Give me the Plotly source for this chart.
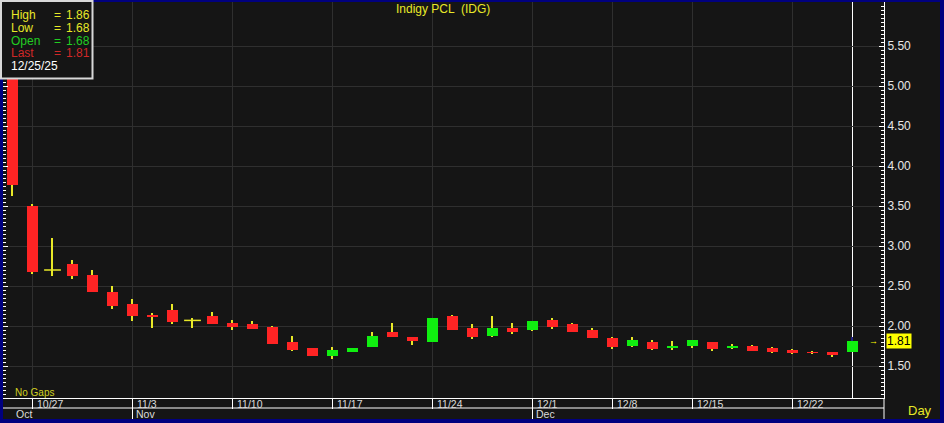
import plotly.graph_objects as go

# ---------------- data ----------------
dates = [
    "2025-10-24",
    "2025-10-27", "2025-10-28", "2025-10-29", "2025-10-30", "2025-10-31",
    "2025-11-03", "2025-11-04", "2025-11-05", "2025-11-06", "2025-11-07",
    "2025-11-10", "2025-11-11", "2025-11-12", "2025-11-13", "2025-11-14",
    "2025-11-17", "2025-11-18", "2025-11-19", "2025-11-20", "2025-11-21",
    "2025-11-24", "2025-11-25", "2025-11-26", "2025-11-27", "2025-11-28",
    "2025-12-01", "2025-12-02", "2025-12-03", "2025-12-04",
    "2025-12-08", "2025-12-09", "2025-12-11", "2025-12-12",
    "2025-12-15", "2025-12-16", "2025-12-17", "2025-12-18", "2025-12-19",
    "2025-12-22", "2025-12-23", "2025-12-24", "2025-12-25",
]
opens = [5.60, 3.50, 2.70, 2.78, 2.64, 2.425, 2.275, 2.14, 2.20, 2.07,
         2.13, 2.04, 2.025, 1.99, 1.80, 1.725, 1.63, 1.67, 1.74, 1.925,
         1.86, 1.80, 2.125, 1.975, 1.875, 1.975, 1.95, 2.075, 2.025, 1.95,
         1.85, 1.75, 1.80, 1.725, 1.75, 1.80, 1.725, 1.75, 1.725, 1.70,
         1.675, 1.675, 1.68]
highs = [6.00, 3.53, 3.10, 2.83, 2.70, 2.50, 2.34, 2.16, 2.275, 2.10,
         2.175, 2.075, 2.06, 2.00, 1.875, 1.725, 1.74, 1.725, 1.925, 2.04,
         1.86, 2.10, 2.14, 2.025, 2.125, 2.04, 2.06, 2.10, 2.04, 1.975,
         1.86, 1.86, 1.825, 1.81, 1.825, 1.80, 1.775, 1.76, 1.74, 1.71,
         1.69, 1.675, 1.86]
lows = [3.62, 2.65, 2.63, 2.59, 2.425, 2.21, 2.06, 1.975, 2.03, 1.98,
        2.02, 1.95, 1.96, 1.77, 1.69, 1.62, 1.59, 1.67, 1.74, 1.865,
        1.765, 1.80, 1.95, 1.835, 1.86, 1.90, 1.94, 1.96, 1.925, 1.85,
        1.71, 1.74, 1.70, 1.70, 1.725, 1.69, 1.71, 1.69, 1.66, 1.65,
        1.65, 1.61, 1.68]
closes = [3.76, 2.67, 2.70, 2.62, 2.425, 2.25, 2.125, 2.11, 2.055, 2.07,
          2.025, 1.99, 1.965, 1.78, 1.705, 1.63, 1.70, 1.725, 1.875, 1.865,
          1.815, 2.10, 1.95, 1.86, 1.975, 1.925, 2.06, 1.99, 1.925, 1.85,
          1.74, 1.825, 1.71, 1.75, 1.825, 1.71, 1.75, 1.69, 1.675, 1.66,
          1.665, 1.64, 1.81]

week_ticks = ["2025-10-27", "2025-11-03", "2025-11-10", "2025-11-17", "2025-11-24",
              "2025-12-01", "2025-12-08", "2025-12-15", "2025-12-22"]
week_labels = ["10/27", "11/3", "11/10", "11/17", "11/24", "12/1", "12/8", "12/15", "12/22"]
month_ticks = ["2025-10-24", "2025-11-03", "2025-12-01"]
month_labels = ["Oct", "Nov", "Dec"]
y_ticks = [1.5, 2.0, 2.5, 3.0, 3.5, 4.0, 4.5, 5.0, 5.5]

title_text = "Indigy PCL  (IDG)"
info_labels = ["High", "Low", "Open", "Last"]
info_values = [highs[-1], lows[-1], opens[-1], closes[-1]]
info_date = "12/25/25"

# ---------------- styles ----------------
BG = "#151515"
GRID = "#2f2f2f"
BLUE = "#00007f"
RED = "#ff2424"
GREEN = "#10ee10"
YEL = "#e8e828"
FONT = "Liberation Sans, Arial, sans-serif"

W, H = 944, 423
L, R, T, B = 3, 884, 2, 398  # plot area in pixels


def px_x(px):
    return (px - L) / (R - L)


def px_y(py):
    return (B - py) / (B - T)


body_base = [min(o, c) for o, c in zip(opens, closes)]
body_h = [abs(c - o) for o, c in zip(opens, closes)]
body_col = [GREEN if c > o else (RED if c < o else YEL) for o, c in zip(opens, closes)]
wick_h = [h - l for h, l in zip(highs, lows)]
wick_col = [YEL] * (len(dates) - 1) + ["#202080"]
doji_x = [d for d, o, c in zip(dates, opens, closes) if o == c]
doji_y = [o for o, c in zip(opens, closes) if o == c]

fig = go.Figure()
fig.add_trace(go.Bar(x=dates, y=wick_h, base=lows, width=0.06,
                     marker=dict(color=wick_col, line=dict(width=0)),
                     hoverinfo="skip", showlegend=False))
fig.add_trace(go.Bar(x=dates, y=body_h, base=body_base, width=0.57,
                     marker=dict(color=body_col, line=dict(width=0)),
                     hoverinfo="skip", showlegend=False))
fig.add_trace(go.Scatter(x=doji_x, y=doji_y, mode="markers",
                         marker=dict(symbol="line-ew", size=12,
                                     line=dict(color=YEL, width=1.5)),
                         hoverinfo="skip", showlegend=False))

shapes = []
# blue frame
for x0, x1, y0, y1 in [(0, L, 0, H), (0, W, 0, 2), (0, W, 419, H), (940, W, 0, H)]:
    shapes.append(dict(type="rect", xref="paper", yref="paper",
                       x0=px_x(x0), x1=px_x(x1), y0=px_y(y1), y1=px_y(y0),
                       fillcolor=BLUE, line=dict(width=0), layer="above"))
# lower separator line of date row
shapes.append(dict(type="line", xref="paper", yref="paper", x0=0, x1=1,
                   y0=px_y(408), y1=px_y(408), line=dict(color="white", width=1), layer="above"))
# right axis continues to the bottom
shapes.append(dict(type="line", xref="paper", yref="paper", x0=1, x1=1,
                   y0=px_y(419), y1=0, line=dict(color="white", width=1), layer="above"))
# month separators
for m in month_ticks[1:]:
    shapes.append(dict(type="line", xref="x", yref="paper", x0=m, x1=m,
                       y0=px_y(419), y1=px_y(408), line=dict(color="white", width=1), layer="above"))
# cursor line
shapes.append(dict(type="line", xref="x", yref="paper", x0=dates[-1], x1=dates[-1],
                   y0=0, y1=px_y(0), line=dict(color="white", width=1), layer="between"))
# info box
shapes.append(dict(type="rect", xref="paper", yref="paper",
                   x0=px_x(1), x1=px_x(92.5), y0=px_y(78.5), y1=px_y(1),
                   fillcolor=BG, line=dict(color="#d8d8d8", width=2), layer="above"))

ann = []
ann.append(dict(text=title_text, xref="paper", yref="paper", x=px_x(443), y=px_y(8.5),
                xanchor="center", yanchor="middle", showarrow=False,
                font=dict(family=FONT, size=12, color=YEL)))
for d, lab in zip(week_ticks, week_labels):
    ann.append(dict(text=lab, xref="x", yref="paper", x=d, y=px_y(403.5), xshift=2,
                    xanchor="left", yanchor="middle", showarrow=False,
                    font=dict(family=FONT, size=10.5, color="#dcdcdc")))
for d, lab in zip(month_ticks, month_labels):
    ann.append(dict(text=lab, xref="x", yref="paper", x=d, y=px_y(414), xshift=1,
                    xanchor="left", yanchor="middle", showarrow=False,
                    font=dict(family=FONT, size=10.5, color="#dcdcdc")))
ann.append(dict(text="No Gaps", xref="paper", yref="paper", x=px_x(13), y=px_y(392.5),
                xanchor="left", yanchor="middle", showarrow=False,
                font=dict(family=FONT, size=10, color="#d0d020")))
ann.append(dict(text="Day", xref="paper", yref="paper", x=px_x(920), y=px_y(410),
                xanchor="center", yanchor="middle", showarrow=False,
                font=dict(family=FONT, size=13, color=YEL)))
ann.append(dict(text="%.2f" % closes[-1], xref="paper", yref="y", x=1, y=closes[-1], xshift=2,
                xanchor="left", yanchor="middle", showarrow=False, bgcolor="#ffff00",
                borderpad=0, font=dict(family=FONT, size=12, color="black")))
ann.append(dict(text="→", xref="paper", yref="y", x=1, y=closes[-1], xshift=-4,
                xanchor="right", yanchor="middle", showarrow=False,
                font=dict(family=FONT, size=9, color="#ffff00")))
info_cols = [YEL, YEL, "#22cc22", "#d02828"]
for i, (lab, val, col) in enumerate(zip(info_labels, info_values, info_cols)):
    py = 15 + i * 12.8
    for txt, px in [(lab, 9), ("=", 52), ("%.2f" % val, 64)]:
        ann.append(dict(text=txt, xref="paper", yref="paper", x=px_x(px), y=px_y(py),
                        xanchor="left", yanchor="middle", showarrow=False,
                        font=dict(family=FONT, size=12, color=col)))
ann.append(dict(text=info_date, xref="paper", yref="paper", x=px_x(9), y=px_y(66.5),
                xanchor="left", yanchor="middle", showarrow=False,
                font=dict(family=FONT, size=12, color="white")))

fig.update_layout(
    width=W, height=H, autosize=False,
    margin=dict(l=L, r=W - R, t=T, b=H - B, pad=0),
    paper_bgcolor=BG, plot_bgcolor=BG,
    barmode="overlay", bargap=0,
    showlegend=False,
    shapes=shapes, annotations=ann,
    xaxis=dict(type="category", categoryorder="array", categoryarray=dates,
               range=[-0.475, len(dates) + 0.575],
               tickmode="array", tickvals=week_ticks, showticklabels=False,
               ticks="outside", ticklen=10, tickcolor="white", tickwidth=1,
               showgrid=True, gridcolor=GRID, gridwidth=1,
               showline=True, linecolor="white", linewidth=1, zeroline=False,
               fixedrange=True),
    yaxis=dict(side="right", range=[1.1, 6.05],
               tickmode="array", tickvals=y_ticks, ticktext=["%.2f" % v for v in y_ticks],
               ticks="inside", ticklen=5, tickcolor="white", tickwidth=1,
               minor=dict(dtick=0.05, tick0=0, ticks="inside", ticklen=3,
                          tickcolor="white", tickwidth=1, showgrid=False),
               showgrid=True, gridcolor=GRID, gridwidth=1,
               showline=True, linecolor="white", linewidth=1, mirror="allticks",
               zeroline=False, fixedrange=True,
               tickfont=dict(family=FONT, size=12, color="#e8e8e8")),
)

fig.write_html("out.html", config=dict(displayModeBar=False),
               post_script="document.body.style.margin='0';document.body.style.overflow='hidden';")
